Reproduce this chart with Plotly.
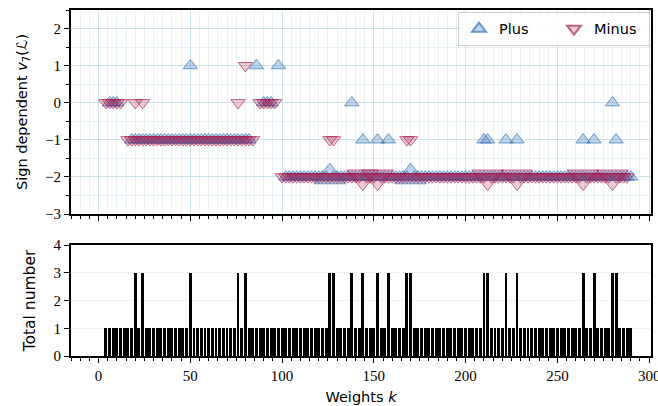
import plotly.graph_objects as go
from plotly.subplots import make_subplots

# ---------------- data ----------------
WEIGHTS = [
    4, 6, 8, 10, 12, 14, 16, 18, 20, 22, 24, 26, 28, 30, 32, 34, 36, 38, 40, 42, 44, 46, 48, 50,
    52, 54, 56, 58, 60, 62, 64, 66, 68, 70, 72, 74, 76, 78, 80, 82, 84, 86, 88, 90, 92, 94, 96, 98,
    100, 102, 104, 106, 108, 110, 112, 114, 116, 118, 120, 122, 124, 126, 128, 130, 132, 134, 136, 138, 140, 142, 144, 146,
    148, 150, 152, 154, 156, 158, 160, 162, 164, 166, 168, 170, 172, 174, 176, 178, 180, 182, 184, 186, 188, 190, 192, 194,
    196, 198, 200, 202, 204, 206, 208, 210, 212, 214, 216, 218, 220, 222, 224, 226, 228, 230, 232, 234, 236, 238, 240, 242,
    244, 246, 248, 250, 252, 254, 256, 258, 260, 262, 264, 266, 268, 270, 272, 274, 276, 278, 280, 282, 284, 286, 288, 290,
]
TOTAL_NUMBER = [
    1, 1, 1, 1, 1, 1, 1, 1, 3, 1, 3, 1, 1, 1, 1, 1, 1, 1, 1, 1, 1, 1, 1, 3,
    1, 1, 1, 1, 1, 1, 1, 1, 1, 1, 1, 1, 3, 1, 3, 1, 1, 1, 1, 1, 1, 1, 1, 1,
    1, 1, 1, 1, 1, 1, 1, 1, 1, 1, 1, 1, 1, 3, 3, 1, 1, 1, 1, 3, 1, 1, 3, 1,
    1, 1, 3, 1, 1, 3, 1, 1, 1, 1, 3, 3, 1, 1, 1, 1, 1, 1, 1, 1, 1, 1, 1, 1,
    1, 1, 1, 1, 1, 1, 1, 3, 3, 1, 1, 1, 1, 3, 1, 1, 3, 1, 1, 1, 1, 1, 1, 1,
    1, 1, 1, 1, 1, 1, 1, 1, 1, 1, 3, 1, 1, 3, 1, 1, 1, 1, 3, 3, 1, 1, 1, 1,
]

# Plus sign: weights k at which v7 takes each value (multiplicity 1 unless "TRIPLE")
PLUS_K_AT_P1 = [50, 86, 98]
PLUS_K_AT_0 = [6, 8, 10, 90, 92, 94, 138, 280]
PLUS_K_AT_M1 = [
    18, 20, 22, 24, 26, 28, 30, 32, 34, 36, 38, 40, 42, 44, 46, 48, 50, 52, 54, 56, 58, 60,
    62, 64, 66, 68, 70, 72, 74, 76, 78, 80, 82,
    144, 152, 158, 210, 212, 222, 228, 264, 270, 282,
]
PLUS_K_AT_M2 = [
    102, 104, 106, 108, 110, 112, 114, 116, 118, 120, 122, 124, 128, 130, 132, 134, 136, 138,
    140, 142, 144, 146, 148, 150, 152, 154, 156, 158, 160, 162, 164, 166, 168, 172, 174, 176,
    178, 180, 182, 184, 186, 188, 190, 192, 194, 196, 198, 200, 202, 204, 206, 208, 210, 212,
    214, 216, 218, 220, 222, 224, 226, 228, 230, 232, 234, 236, 238, 240, 242, 244, 246, 248,
    250, 252, 254, 256, 258, 260, 262, 264, 266, 268, 270, 272, 274, 276, 278, 280, 282, 284,
    286, 288, 290,
]
PLUS_K_AT_M2_TRIPLE = [126, 170]

# Minus sign
MINUS_K_AT_P1 = [80]
MINUS_K_AT_0 = [4, 6, 8, 10, 12, 20, 24, 76, 88, 90, 92, 94, 96]
MINUS_K_AT_M1 = [
    16, 18, 20, 22, 24, 26, 28, 30, 32, 34, 36, 38, 40, 42, 44, 46, 48, 50, 52, 54, 56, 58,
    60, 62, 64, 66, 68, 70, 72, 74, 76, 78, 80, 82, 84,
    126, 128, 168, 170,
]
MINUS_K_AT_M2 = [
    100, 102, 104, 106, 108, 110, 112, 114, 116, 118, 120, 122, 124, 126, 128, 130, 132, 134,
    136, 138, 140, 142, 146, 148, 150, 154, 156, 158, 160, 162, 164, 166, 168, 170, 172, 174,
    176, 178, 180, 182, 184, 186, 188, 190, 192, 194, 196, 198, 200, 202, 204, 206, 208, 210,
    214, 216, 218, 220, 222, 224, 226, 230, 232, 234, 236, 238, 240, 242, 244, 246, 248, 250,
    252, 254, 256, 258, 260, 262, 266, 268, 270, 272, 274, 276, 278, 282, 284, 286, 288,
]
MINUS_K_AT_M2_TRIPLE = [144, 152, 212, 228, 264, 280]

X_TICKS = [0, 50, 100, 150, 200, 250, 300]

# ---------------- styling ----------------
PLUS_EDGE = "#2b6cb0"
PLUS_FILL = "rgba(62,122,185,0.45)"
MINUS_EDGE = "#a3204f"
MINUS_FILL = "rgba(178,32,86,0.33)"
GRID_MAJOR = "#cfe2ea"
GRID_MINOR = "#e8f1f5"
TICK_FONT = dict(family="Liberation Serif", size=15, color="black")
LABEL_FONT = dict(family="DejaVu Sans", size=14.5, color="black")
BASE_SIZE = 12.5


def build(groups):
    pts = []
    for ks, v, n in groups:
        pts += [(k, v, n) for k in ks]
    pts.sort(key=lambda p: p[0])
    xs = [p[0] for p in pts]
    ys = [p[1] for p in pts]
    sizes = [BASE_SIZE * (1 + 0.6 * (p[2] - 1)) for p in pts]
    return xs, ys, sizes


px, py, ps = build([
    (PLUS_K_AT_P1, 1, 1), (PLUS_K_AT_0, 0, 1), (PLUS_K_AT_M1, -1, 1),
    (PLUS_K_AT_M2, -2, 1), (PLUS_K_AT_M2_TRIPLE, -2, 3),
])
mx, my, ms = build([
    (MINUS_K_AT_P1, 1, 1), (MINUS_K_AT_0, 0, 1), (MINUS_K_AT_M1, -1, 1),
    (MINUS_K_AT_M2, -2, 1), (MINUS_K_AT_M2_TRIPLE, -2, 3),
])

fig = make_subplots(rows=2, cols=1, shared_xaxes=True)

fig.add_trace(go.Scatter(
    x=px, y=py, mode="markers", name="Plus",
    marker=dict(symbol="triangle-up", size=ps, color=PLUS_FILL,
                line=dict(color=PLUS_EDGE, width=1)),
), row=1, col=1)
fig.add_trace(go.Scatter(
    x=mx, y=my, mode="markers", name="Minus",
    marker=dict(symbol="triangle-down", size=ms, color=MINUS_FILL,
                line=dict(color=MINUS_EDGE, width=1)),
), row=1, col=1)

fig.add_trace(go.Bar(
    x=WEIGHTS, y=TOTAL_NUMBER, width=1.6, marker=dict(color="black", line=dict(width=0)),
    showlegend=False,
), row=2, col=1)

common_x = dict(
    range=[-15, 301], tickmode="array", tickvals=X_TICKS,
    ticks="outside", ticklen=5, tickwidth=1.2, tickcolor="black",
    showline=True, linecolor="black", linewidth=1.8, mirror=True,
    zeroline=False, tickfont=TICK_FONT, automargin=False,
    ticklabeloverflow="allow",
)

fig.update_layout(
    width=658, height=406,
    margin=dict(l=71, r=7, t=10, b=50),
    paper_bgcolor="white", plot_bgcolor="white",
    bargap=0,
    xaxis=dict(**common_x, domain=[0, 1], showticklabels=False,
               showgrid=True, gridcolor=GRID_MAJOR, gridwidth=1.2,
               minor=dict(dtick=5, tick0=0, showgrid=True, gridcolor=GRID_MINOR, gridwidth=1,
                          ticks="outside", ticklen=3, tickcolor="black", tickwidth=1)),
    yaxis=dict(domain=[0.4104, 1], range=[-3, 2.5], tickmode="array",
               tickvals=[-3, -2, -1, 0, 1, 2], automargin=False,
               ticks="outside", ticklen=5, tickwidth=1.2, tickcolor="black",
               showline=True, linecolor="black", linewidth=1.8, mirror=True,
               zeroline=False, tickfont=TICK_FONT,
               showgrid=True, gridcolor=GRID_MAJOR, gridwidth=1.2,
               minor=dict(dtick=0.5, tick0=0, showgrid=True, gridcolor=GRID_MINOR, gridwidth=1,
                          ticks="outside", ticklen=3, tickcolor="black", tickwidth=1),
               title=dict(text="Sign dependent <i>v</i><sub>7</sub>(ℒ)", font=LABEL_FONT, standoff=14)),
    xaxis2=dict(**common_x, domain=[0, 1], showticklabels=True, showgrid=False,
                minor=dict(dtick=5, tick0=0, showgrid=False,
                           ticks="outside", ticklen=3, tickcolor="black", tickwidth=1),
                title=dict(text="Weights <i>k</i>", font=LABEL_FONT, standoff=9)),
    yaxis2=dict(domain=[0, 0.3208], range=[0, 4], tickmode="array", tickvals=[0, 1, 2, 3, 4],
                ticks="outside", ticklen=5, tickwidth=1.2, tickcolor="black",
                showline=True, linecolor="black", linewidth=1.8, mirror=True,
                zeroline=False, tickfont=TICK_FONT, automargin=False,
                showgrid=True, gridcolor="#edf4f7", gridwidth=1,
                title=dict(text="Total number", font=dict(family="DejaVu Sans", size=15.5, color="black"),
                           standoff=14)),
    legend=dict(
        orientation="h", x=0.9983, xanchor="right", y=0.995, yanchor="top",
        bgcolor="rgba(255,255,255,0.85)", bordercolor="#cccccc", borderwidth=1,
        font=dict(family="DejaVu Sans", size=14.5, color="black"),
        itemsizing="constant", entrywidth=50, entrywidthmode="pixels",
    ),
)

fig.write_html(
    "out.html",
    config={"displayModeBar": False},
    post_script="document.body.style.margin='0';document.body.style.overflow='hidden';",
)
